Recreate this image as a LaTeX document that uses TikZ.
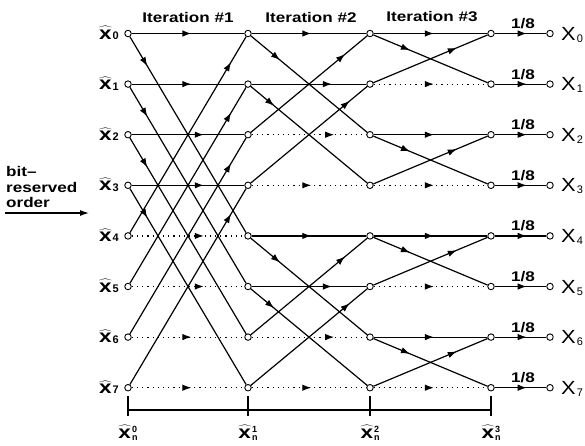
\documentclass[tikz,border=0pt]{standalone}
\usepackage{fontspec}
\setmainfont{Liberation Sans}
\usetikzlibrary{arrows.meta,decorations.markings}
\newcommand\hatx{\scalebox{1.25}[1]{$\widehat{\hbox{\fontsize{18}{18}\selectfont\bfseries x}}$}}
\newcommand\hxk[1]{\hatx\kern1pt\raisebox{-0.5pt}{\fontsize{11}{11}\selectfont\bfseries #1}}
\newcommand\hxn[1]{\hatx\kern1pt\raisebox{-2.5pt}{\fontsize{9}{8.5}\selectfont\bfseries\shortstack[l]{#1\\n}}}
\begin{document}
\begin{tikzpicture}[x=1pt,y=-1pt,
  dot/.style={circle,draw,fill=white,inner sep=0pt,minimum size=6.5pt,line width=0.9pt},
  wire/.style={line width=1.2pt},
  dots/.style={line width=1.2pt,dash pattern=on 1.2pt off 4pt},
  ar/.style={postaction={solid,decorate,decoration={markings,mark=at position #1 with {\arrow{Latex[length=9pt,width=6.5pt]}}}}},
  lab/.style={font=\fontsize{14}{16}\selectfont\bfseries},
  inlab/.style={inner sep=0pt},
  outlab/.style={font=\fontsize{19}{19}\selectfont,inner sep=0pt},
]
\useasboundingbox (0,0) rectangle (585,445);

% nodes
\foreach \c/\x in {0/128,1/248,2/370,3/491,4/550}
  \foreach \r in {0,...,7}
    \node[dot] (c\c r\r) at (\x,{33.5+50.6*\r}) {};

% iteration 1
\foreach \r/\p/\s in {0/.53/wire,1/.53/wire,2/.64/wire,3/.64/wire,4/.64/dots,5/.64/dots,6/.53/dots,7/.53/dots}
  \draw[\s,ar=\p] (c0r\r) -- (c1r\r);
\foreach \a/\b in {0/4,1/5,2/6,3/7}{
  \draw[wire,ar=.15] (c0r\a) -- (c1r\b);
  \draw[wire,ar=.87] (c0r\b) -- (c1r\a);
}

% iteration 2
\foreach \r/\p/\s in {0/.52/wire,1/.70/wire,2/.72/dots,3/.52/dots,4/.52/wire,5/.70/wire,6/.72/dots,7/.52/dots}
  \draw[\s,ar=\p] (c1r\r) -- (c2r\r);
\foreach \a/\b/\p/\q in {0/2/.25/.81,1/3/.20/.85,4/6/.25/.81,5/7/.20/.85}{
  \draw[wire,ar=\p] (c1r\a) -- (c2r\b);
  \draw[wire,ar=\q] (c1r\b) -- (c2r\a);
}

% iteration 3
\foreach \r/\s in {0/wire,1/dots,2/wire,3/dots,4/wire,5/dots,6/wire,7/dots}
  \draw[\s,ar=.53] (c2r\r) -- (c3r\r);
\foreach \a/\b in {0/1,2/3,4/5,6/7}{
  \draw[wire,ar=.32] (c2r\a) -- (c3r\b);
  \draw[wire,ar=.73] (c2r\b) -- (c3r\a);
}

% output scaling and labels
\foreach \r in {0,...,7}{
  \draw[wire,ar=.62] (c3r\r) -- (c4r\r);
  \node[lab,anchor=base] (s\r) at (523,{33.5+50.6*\r-5}) {\scalebox{1.22}[1]{1/8}};
  \node[inlab,anchor=base east] (in\r) at (119,{33.5+50.6*\r+5.5}) {\hxk{\r}};
  \node[outlab,anchor=base west] (out\r) at (561,{33.5+50.6*\r+6.5}) {\scalebox{1.15}[1]{X}\kern1pt\raisebox{-2pt}{\fontsize{11}{11}\selectfont\r}};
}

% titles
\node[lab] (it1) at (188,17) {\scalebox{1.22}[1]{Iteration \#1}};
\node[lab] (it2) at (311,17) {\scalebox{1.22}[1]{Iteration \#2}};
\node[lab] (it3) at (432,17) {\scalebox{1.22}[1]{Iteration \#3}};

% bit-reserved order
\node[lab,anchor=base west,inner sep=0pt] (b1) at (6,176) {\scalebox{1.22}[1]{bit--}};
\node[lab,anchor=base west,inner sep=0pt] (b2) at (6,192) {\scalebox{1.22}[1]{reserved}};
\node[lab,anchor=base west,inner sep=0pt] (b3) at (6,207) {\scalebox{1.22}[1]{order}};
\coordinate (bs) at (5,213);
\coordinate (be) at (89,213);
\draw[wire,-{Latex[length=9pt,width=6pt]}] (bs) -- (be);

% axis
\coordinate (a0) at (128,410);
\coordinate (a3) at (491,410);
\draw[wire] (a0) -- (a3);
\foreach \c/\x in {0/128,1/248,2/370,3/491}{
  \coordinate (tt\c) at (\x,396);
  \coordinate (tb\c) at (\x,416);
  \draw[wire] (tt\c) -- (tb\c);
  \node[inlab,anchor=base] (ax\c) at (\x,438) {\hxn{\c}};
}
\end{tikzpicture}
\end{document}
